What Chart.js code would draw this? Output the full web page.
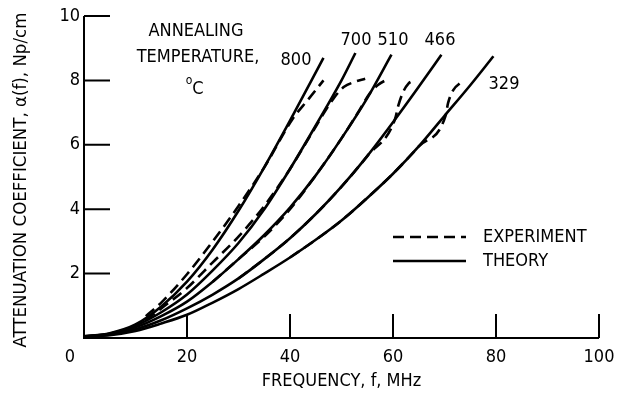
<!DOCTYPE html>
<html>
<head>
<meta charset="utf-8">
<script src="https://cdn.jsdelivr.net/npm/chart.js@4"></script>
<style>
  body { margin: 0; background: #fff; }
  #wrap { width: 617px; height: 396px; }
</style>
</head>
<body>
<div id="wrap"><canvas id="chart"></canvas></div>
<script>
// tick labels
const xTicks = [20, 40, 60, 80, 100];
const yTicks = [2, 4, 6, 8, 10];

// theory curves, [frequency MHz, attenuation Np/cm]
const theory800 = [[0, 0.05], [5, 0.15], [10, 0.42], [15, 0.98], [20, 1.75], [25, 2.75], [30, 3.95], [35, 5.3], [40, 6.75], [46.5, 8.7]];
const theory700 = [[0, 0.05], [5, 0.13], [10, 0.38], [15, 0.8], [20, 1.35], [25, 2.1], [30, 2.95], [35, 4.0], [40, 5.25], [45, 6.6], [50, 8.0], [52.7, 8.85]];
const theory510 = [[0, 0.05], [5, 0.12], [10, 0.33], [15, 0.68], [20, 1.13], [25, 1.75], [30, 2.45], [35, 3.2], [40, 4.05], [45, 5.05], [50, 6.2], [55, 7.45], [59.7, 8.8]];
const theory466 = [[0, 0.05], [5, 0.1], [10, 0.27], [15, 0.55], [20, 0.92], [25, 1.35], [30, 1.85], [35, 2.45], [40, 3.1], [45, 3.85], [50, 4.7], [55, 5.65], [60, 6.7], [65, 7.8], [69.4, 8.8]];
const theory329 = [[0, 0.05], [5, 0.09], [10, 0.22], [15, 0.45], [20, 0.72], [25, 1.1], [30, 1.52], [35, 2.0], [40, 2.5], [45, 3.05], [50, 3.65], [55, 4.35], [60, 5.1], [65, 5.95], [70, 6.9], [75, 7.85], [79.5, 8.75]];

// experiment curves
const exp800 = [[12, 0.68], [15, 1.1], [20, 1.98], [25, 3.0], [30, 4.1], [35, 5.3], [40.5, 6.8], [43.5, 7.4], [46.5, 8.0]];
const exp700 = [[12, 0.55], [15, 0.92], [20, 1.55], [25, 2.35], [30, 3.15], [35, 4.1], [40, 5.25], [44, 6.3], [48.5, 7.45], [50.5, 7.8], [52.5, 7.95], [54.6, 8.05]];
const exp510 = [[25, 1.75], [30, 2.45], [35, 3.15], [40, 4.0], [45, 5.05], [50, 6.2], [53, 6.95], [55.5, 7.6], [57, 7.85], [59.1, 8.05]];
const exp466 = [[30, 1.85], [35, 2.45], [40, 3.1], [45, 3.85], [50, 4.7], [55, 5.65], [60.4, 6.8], [61, 7.2], [62, 7.65], [63, 7.9], [64, 8.0]];
const exp329 = [[40, 2.5], [45, 3.05], [50, 3.65], [55, 4.35], [60, 5.1], [65, 5.95], [70.2, 6.9], [70.7, 7.3], [71.7, 7.7], [73.3, 7.95]];

const FONT = '"DejaVu Sans Condensed", "Liberation Sans Narrow", "DejaVu Sans", sans-serif';

function toXY(arr) {
    return arr.map(p => ({ x: p[0], y: p[1] }));
}

function lineSet(label, arr, dashed) {
    return {
        label: label,
        data: toXY(arr),
        showLine: true,
        borderColor: '#000',
        borderWidth: 2.6,
        borderDash: dashed ? [11, 6] : [],
        pointRadius: 0,
        cubicInterpolationMode: 'monotone',
        fill: false
    };
}

// axes, ticks, labels and legend drawn by hand so the layout matches the scan
const paperAxes = {
    id: 'paperAxes',
    afterDraw(chart) {
        const ctx = chart.ctx;
        const xs = chart.scales.x;
        const ys = chart.scales.y;
        const x0 = xs.getPixelForValue(0);
        const y0 = ys.getPixelForValue(0);

        ctx.save();
        ctx.strokeStyle = '#000';
        ctx.fillStyle = '#000';
        ctx.lineWidth = 2;
        ctx.lineCap = 'butt';

        // axis lines
        ctx.beginPath();
        ctx.moveTo(x0, ys.getPixelForValue(10));
        ctx.lineTo(x0, y0);
        ctx.lineTo(xs.getPixelForValue(100), y0);
        ctx.stroke();

        // inward ticks
        ctx.beginPath();
        yTicks.forEach(v => {
            const py = ys.getPixelForValue(v);
            ctx.moveTo(x0, py);
            ctx.lineTo(x0 + 26, py);
        });
        xTicks.forEach(v => {
            const px = xs.getPixelForValue(v);
            ctx.moveTo(px, y0);
            ctx.lineTo(px, y0 - 24);
        });
        ctx.stroke();

        ctx.font = '18px ' + FONT;
        ctx.textBaseline = 'middle';

        // tick labels
        ctx.textAlign = 'right';
        yTicks.forEach(v => ctx.fillText(String(v), x0 - 4, ys.getPixelForValue(v)));
        ctx.textAlign = 'center';
        xTicks.forEach(v => ctx.fillText(String(v), xs.getPixelForValue(v), y0 + 19));
        ctx.fillText('0', x0 - 14, y0 + 19);

        // axis titles
        ctx.fillText('FREQUENCY, f, MHz', (x0 + xs.getPixelForValue(100)) / 2, y0 + 43);
        ctx.save();
        ctx.translate(21, (y0 + ys.getPixelForValue(10)) / 2 + 3);
        ctx.rotate(-Math.PI / 2);
        ctx.font = '18.5px ' + FONT;
        ctx.fillText('ATTENUATION COEFFICIENT, \u03b1(f), Np/cm', 0, 0);
        ctx.restore();

        // annotations
        ctx.fillText('ANNEALING', 196, 31);
        ctx.fillText('TEMPERATURE,', 198, 57);
        ctx.fillText('C', 198, 89);
        ctx.font = '12px ' + FONT;
        ctx.fillText('o', 189, 81);
        ctx.font = '18px ' + FONT;
        ctx.fillText('800', 296, 60);
        ctx.fillText('700', 356, 40);
        ctx.fillText('510', 393, 40);
        ctx.fillText('466', 440, 40);
        ctx.fillText('329', 504, 84);

        // legend
        ctx.lineWidth = 2.6;
        ctx.setLineDash([11, 6]);
        ctx.beginPath();
        ctx.moveTo(393, 237);
        ctx.lineTo(466, 237);
        ctx.stroke();
        ctx.setLineDash([]);
        ctx.beginPath();
        ctx.moveTo(393, 261);
        ctx.lineTo(466, 261);
        ctx.stroke();
        ctx.textAlign = 'left';
        ctx.fillText('EXPERIMENT', 483, 237);
        ctx.fillText('THEORY', 483, 261);

        ctx.restore();
    }
};

new Chart(document.getElementById('chart'), {
    type: 'scatter',
    data: {
        datasets: [
            lineSet('800 theory', theory800, false),
            lineSet('700 theory', theory700, false),
            lineSet('510 theory', theory510, false),
            lineSet('466 theory', theory466, false),
            lineSet('329 theory', theory329, false),
            lineSet('800 experiment', exp800, true),
            lineSet('700 experiment', exp700, true),
            lineSet('510 experiment', exp510, true),
            lineSet('466 experiment', exp466, true),
            lineSet('329 experiment', exp329, true)
        ]
    },
    options: {
        responsive: true,
        maintainAspectRatio: false,
        animation: false,
        layout: { padding: { left: 84, right: 18, top: 16, bottom: 58 } },
        plugins: {
            legend: { display: false },
            tooltip: { enabled: false }
        },
        scales: {
            x: { type: 'linear', min: 0, max: 100, display: false },
            y: { type: 'linear', min: 0, max: 10, display: false }
        }
    },
    plugins: [paperAxes]
});
</script>
</body>
</html>
